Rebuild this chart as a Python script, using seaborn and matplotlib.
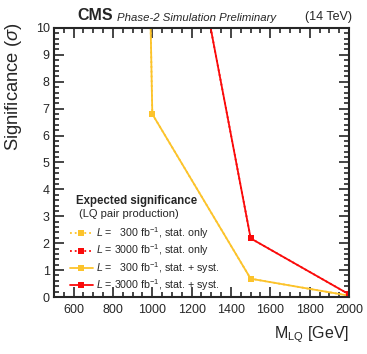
import matplotlib
matplotlib.use("Agg")
import matplotlib.pyplot as plt
import matplotlib.ticker as mticker
import numpy as np
import pandas as pd
import seaborn as sns
from matplotlib.lines import Line2D

# LQ mass points and expected significance
mass = [500, 1000, 1500, 2000]
sig_300_stat = [200.0, 6.8, 0.68, 0.05]
sig_3000_stat = [60.0, 21.4, 2.18, 0.10]
sig_300_syst = [200.0, 6.8, 0.68, 0.05]
sig_3000_syst = [60.0, 21.4, 2.18, 0.10]

YELLOW = "#fcc32b"
RED = "#fa0a0a"

sns.set_style("ticks")
plt.rcParams["font.family"] = ["Liberation Sans", "DejaVu Sans"]
plt.rcParams["mathtext.fontset"] = "custom"
plt.rcParams["mathtext.rm"] = "Liberation Sans"
plt.rcParams["mathtext.it"] = "Liberation Sans:italic"

fig = plt.figure(figsize=(3.67, 3.54), dpi=100)
ax = fig.add_axes([0.147, 0.161, 0.804, 0.760])

series = [
    (sig_300_stat, YELLOW, ":"),
    (sig_3000_stat, RED, ":"),
    (sig_300_syst, YELLOW, "-"),
    (sig_3000_syst, RED, "-"),
]
for vals, col, ls in series:
    df = pd.DataFrame({"mass": mass, "sig": vals})
    sns.lineplot(data=df, x="mass", y="sig", ax=ax, color=col, linestyle=ls,
                 linewidth=1.3, marker="s", markersize=5, markeredgewidth=0)

ax.set_xlim(500, 2000)
ax.set_ylim(0, 10)
ax.xaxis.set_major_locator(mticker.MultipleLocator(200))
ax.xaxis.set_minor_locator(mticker.MultipleLocator(50))
ax.yaxis.set_major_locator(mticker.MultipleLocator(1))
ax.yaxis.set_minor_locator(mticker.MultipleLocator(0.2))
ax.tick_params(which="both", direction="in", top=True, right=True, labelsize=9,
               width=1.2)
ax.tick_params(axis="x", pad=5)
ax.tick_params(axis="y", pad=3)
ax.tick_params(which="major", length=7)
ax.tick_params(which="minor", length=3.5)
for sp in ax.spines.values():
    sp.set_linewidth(1.5)

ax.set_xlabel(r"M$_{\rm LQ}$ [GeV]", fontsize=11.5, loc="right", labelpad=6)
ax.set_ylabel(r"Significance ($\sigma$)", fontsize=13.2, loc="top")
ax.yaxis.set_label_coords(-0.1, 1.02)

fig.text(0.212, 0.935, "CMS", fontsize=11.5, fontweight="bold", va="bottom")
fig.text(0.318, 0.935, "Phase-2 Simulation Preliminary", fontsize=8.2,
         style="italic", va="bottom")
fig.text(0.958, 0.935, "(14 TeV)", fontsize=9, ha="right", va="bottom")

ax.text(0.075, 0.357, "Expected significance", transform=ax.transAxes,
        fontsize=8.3, fontweight="bold", va="center")
ax.text(0.085, 0.309, "(LQ pair production)", transform=ax.transAxes,
        fontsize=8, va="center")

labels = [
    r"$\it{L}$ =   300 fb$^{-1}$, stat. only",
    r"$\it{L}$ = 3000 fb$^{-1}$, stat. only",
    r"$\it{L}$ =   300 fb$^{-1}$, stat. + syst.",
    r"$\it{L}$ = 3000 fb$^{-1}$, stat. + syst.",
]
handles = [Line2D([], [], color=c, linestyle=ls, linewidth=1.3, marker="s",
                  markersize=5, markeredgewidth=0) for _, c, ls in series]
ax.legend(handles, labels, loc="upper left", bbox_to_anchor=(0.028, 0.294),
          frameon=False, fontsize=7.7, handlelength=2.2, handletextpad=0.3,
          labelspacing=0.14, borderpad=0.2)

fig.savefig("out.png", dpi=100)
